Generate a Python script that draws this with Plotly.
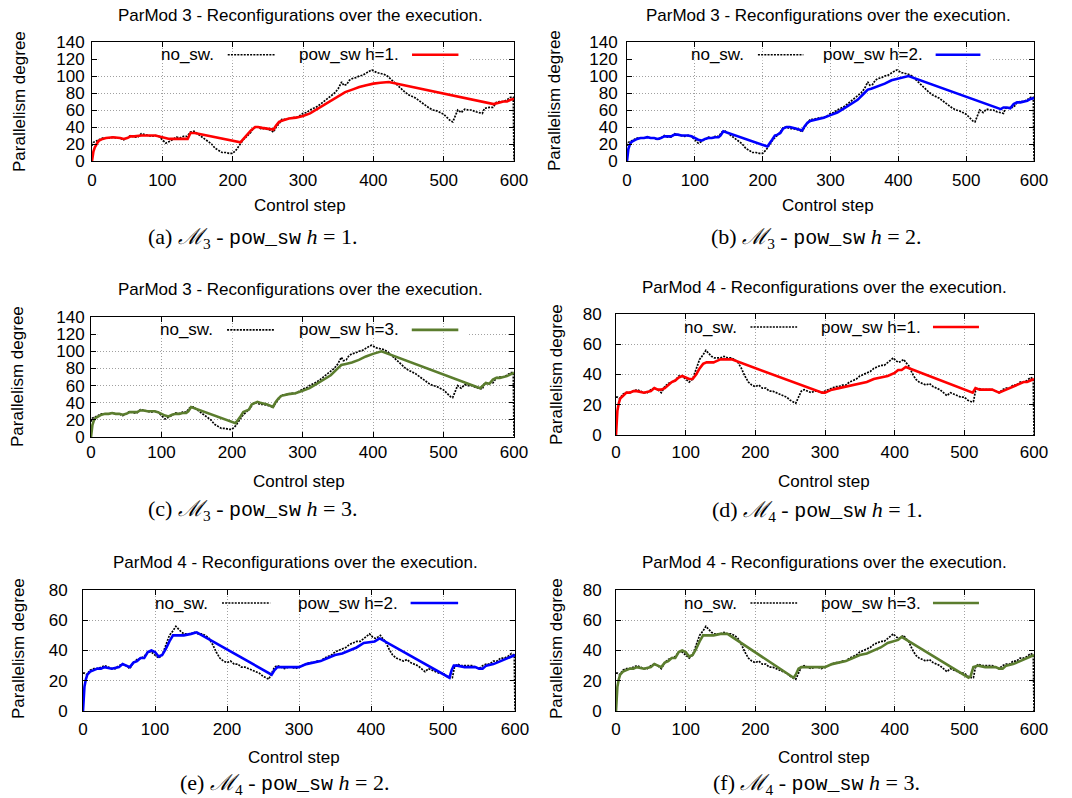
import plotly.graph_objects as go

W, H = 1072, 798

# ---------------- data ----------------
M3_NO_SW = [(0,18),(2,22),(5,23),(10,25),(15,27),(20,27),(25,27),(30,28),(35,27),(40,27),(45,25),(50,27),(55,30),(60,28),(65,28),(70,32),(75,31),(80,30),(85,29),(90,30),(95,29),(100,25),(105,21),(110,23),(115,26),(120,28),(125,27),(130,29),(135,29),(140,34),(145,35),(150,32),(155,29),(160,27),(165,24),(170,20),(175,15),(180,12),(185,10),(190,10),(195,9),(200,9),(205,13),(210,19),(215,25),(220,29),(225,33),(230,39),(235,40),(240,38),(245,38),(250,37),(255,36),(258,34),(262,40),(266,44),(270,49),(275,49),(280,50),(285,51),(290,51),(295,53),(300,56),(305,57),(310,60),(315,62),(320,64),(325,67),(330,70),(335,73),(340,77),(345,80),(350,85),(355,93),(358,89),(362,90),(366,95),(370,97),(375,98),(380,100),(385,101),(390,104),(395,106),(398,107),(402,105),(405,104),(410,103),(415,102),(420,100),(425,96),(430,92),(435,88),(440,85),(445,81),(450,78),(455,76),(460,74),(465,71),(470,68),(475,64),(480,62),(485,60),(490,59),(495,57),(500,55),(505,51),(510,47),(513,46),(516,53),(520,60),(525,57),(530,61),(535,60),(540,60),(545,58),(550,57),(555,56),(558,62),(562,63),(565,63),(570,63),(575,69),(580,70),(585,70),(590,72),(595,75),(599,75),(600,0)]

M3_H1 = [(0,0),(1,6),(2,11),(4,16),(6,20),(8,22),(10,24),(15,26),(20,27),(30,28),(40,27),(45,26),(50,27),(55,29),(60,29),(70,30),(80,30),(90,30),(100,28),(110,26),(120,26),(130,26),(136,26),(140,33),(146,33),(211,22),(214,25),(218,29),(222,33),(226,36),(232,40),(236,40),(242,39),(250,38),(258,37),(262,42),(266,46),(272,48),(280,50),(290,51),(300,53),(310,56),(320,61),(330,66),(340,71),(350,76),(360,81),(370,84),(380,87),(390,89),(400,91),(410,92),(422,93),(571,67),(575,68),(580,69),(585,70),(590,70),(595,72),(600,73)]

M3_H2 = [(0,0),(1,8),(2,14),(4,19),(6,22),(8,23),(10,24),(15,26),(20,27),(25,27),(30,28),(35,27),(40,27),(45,26),(50,27),(55,29),(60,29),(65,29),(70,31),(75,31),(80,30),(85,30),(90,30),(95,29),(100,27),(105,25),(110,24),(115,26),(120,27),(125,27),(130,28),(135,28),(138,30),(142,35),(207,17),(210,20),(214,25),(218,30),(222,31),(226,33),(230,38),(235,40),(240,40),(250,38),(258,36),(262,41),(266,45),(270,47),(280,49),(290,51),(300,54),(310,57),(320,62),(330,67),(340,72),(350,80),(355,84),(360,85),(370,88),(380,91),(390,95),(400,97),(410,99),(415,100),(551,61),(555,63),(560,63),(565,62),(570,67),(575,69),(580,69),(585,70),(590,71),(595,73),(600,74)]

M3_H3 = [(0,0),(1,8),(2,14),(4,19),(6,22),(8,23),(10,24),(15,26),(20,27),(25,27),(30,28),(35,27),(40,27),(45,26),(50,27),(55,29),(60,29),(65,29),(70,31),(75,31),(80,30),(85,30),(90,30),(95,29),(100,27),(105,25),(110,24),(115,26),(120,27),(125,27),(130,28),(135,28),(138,30),(142,35),(205,16),(208,19),(212,24),(216,29),(220,31),(224,32),(228,38),(232,40),(236,41),(240,40),(250,38),(258,35),(262,41),(266,45),(270,48),(280,50),(290,51),(300,54),(310,57),(320,62),(330,67),(340,72),(350,80),(355,84),(360,85),(370,87),(380,90),(390,94),(400,97),(405,98),(412,100),(552,57),(556,60),(560,63),(565,62),(570,67),(575,69),(580,69),(585,70),(590,71),(595,73),(600,75)]

M4_NO_SW = [(0,25),(2,25),(5,24),(10,27),(15,28),(20,28),(25,29),(30,30),(35,29),(40,28),(45,28),(50,30),(55,31),(60,30),(65,28),(70,32),(75,34),(80,35),(85,36),(90,39),(95,39),(100,37),(105,35),(110,37),(115,44),(120,50),(125,53),(129,56),(133,54),(137,52),(141,51),(145,51),(150,51),(155,52),(160,51),(165,51),(170,50),(175,48),(180,44),(185,39),(190,35),(195,33),(200,32),(205,33),(210,31),(215,31),(220,29),(225,29),(230,28),(235,27),(240,26),(245,25),(250,23),(255,22),(258,21),(262,25),(266,29),(270,30),(275,29),(280,28),(285,29),(290,29),(295,28),(300,29),(305,30),(310,31),(315,32),(320,32),(325,33),(330,33),(335,35),(340,36),(345,37),(350,39),(355,40),(360,41),(365,42),(370,44),(375,45),(380,46),(385,46),(390,48),(395,50),(398,51),(402,49),(406,48),(410,49),(413,50),(416,48),(420,46),(425,41),(430,37),(435,35),(440,34),(445,33),(450,34),(455,32),(460,31),(465,30),(470,28),(475,26),(480,28),(485,27),(490,26),(495,25),(500,25),(505,23),(510,22),(513,22),(516,29),(520,31),(525,30),(530,30),(535,30),(540,30),(545,29),(550,28),(555,30),(560,31),(565,31),(570,33),(575,33),(580,35),(585,35),(590,36),(595,38),(599,37),(600,0)]

M4_H1 = [(0,0),(1,10),(2,16),(4,21),(6,24),(8,25),(10,26),(15,28),(20,28),(25,29),(30,29),(40,28),(50,29),(55,31),(60,30),(65,30),(70,31),(75,33),(80,35),(85,36),(90,38),(95,39),(100,38),(105,37),(110,37),(115,40),(120,44),(125,47),(130,48),(140,48),(145,49),(150,50),(155,50),(160,50),(166,50),(296,28),(300,28),(305,29),(310,30),(320,31),(330,32),(340,33),(350,34),(360,35),(370,37),(380,38),(390,39),(400,41),(405,43),(410,43),(416,45),(512,28),(516,31),(522,30),(530,30),(540,30),(545,29),(550,28),(555,29),(560,30),(570,32),(580,34),(585,35),(590,35),(595,36),(600,37)]

M4_H2 = [(0,0),(1,10),(2,16),(4,21),(6,24),(8,25),(10,26),(15,27),(20,28),(25,28),(30,29),(40,28),(50,29),(55,31),(60,30),(65,29),(70,32),(75,33),(80,35),(85,35),(90,39),(95,40),(100,39),(105,36),(110,37),(115,41),(120,46),(125,50),(130,50),(140,50),(150,51),(158,52),(262,24),(266,27),(270,29),(280,29),(290,29),(300,29),(310,31),(320,32),(330,33),(340,35),(350,37),(360,38),(370,40),(380,42),(390,45),(400,46),(405,46),(412,48),(507,22),(509,22),(512,27),(515,30),(520,30),(530,29),(540,29),(545,29),(550,28),(555,28),(560,30),(570,31),(580,33),(585,34),(590,35),(595,36),(600,37)]

M4_H3 = [(0,0),(1,10),(2,16),(4,21),(6,24),(8,25),(10,26),(15,27),(20,28),(25,28),(30,29),(40,28),(50,29),(55,31),(60,30),(65,29),(70,32),(75,33),(80,35),(85,35),(90,39),(95,40),(100,39),(105,36),(110,37),(115,41),(120,46),(125,50),(130,50),(140,50),(150,51),(160,51),(255,22),(258,24),(262,28),(266,29),(270,29),(280,29),(290,29),(300,29),(310,31),(320,32),(330,33),(340,35),(350,37),(360,38),(370,40),(380,42),(390,45),(400,46),(405,47),(410,49),(506,22),(509,23),(513,29),(520,30),(530,29),(540,29),(545,29),(550,28),(555,28),(560,30),(570,31),(580,33),(585,34),(590,35),(595,36),(600,37)]

X_TICKS = [0, 100, 200, 300, 400, 500, 600]
Y_TICKS_M3 = [0, 20, 40, 60, 80, 100, 120, 140]
Y_TICKS_M4 = [0, 20, 40, 60, 80]

TITLE_M3 = "ParMod 3 - Reconfigurations over the execution."
TITLE_M4 = "ParMod 4 - Reconfigurations over the execution."
X_TITLE = "Control step"
Y_TITLE = "Parallelism degree"
NOSW_LABEL = "no_sw."

RED = "#ff0000"
BLUE = "#0000ff"
GREEN = "#5b7d2e"

SANS = "Liberation Sans, Arial, sans-serif"
SERIF = "Liberation Serif, DejaVu Serif, serif"
MONO = "Liberation Mono, DejaVu Sans Mono, monospace"
NOSW_DASH = "2px,1.2px"
NB = "\u00a0"


def caption(letter, m, h):
    return (f"({letter}){NB}<i>ℳ</i><sub>{m}</sub>{NB}-{NB}"
            f"<span style=\"font-family:{MONO};font-size:20px\">pow_sw</span>{NB}"
            f"<i>h</i>{NB}={NB}{h}.")


panels = [
    dict(nosw=M3_NO_SW, sw=M3_H1, color=RED, label="pow_sw h=1.", title=TITLE_M3,
         cap=caption("a", 3, 1), box=(92, 514, 42, 161), ymax=140, yt=Y_TICKS_M3,
         title_xy=(300, 15), xt_xy=(300, 205), cap_xy=(252, 238), yt_xy=(19, 102),
         xstand=4, ystand=3, legy=125),
    dict(nosw=M3_NO_SW, sw=M3_H2, color=BLUE, label="pow_sw h=2.", title=TITLE_M3,
         cap=caption("b", 3, 2), box=(627, 1034, 42, 161), ymax=140, yt=Y_TICKS_M3,
         title_xy=(828, 15), xt_xy=(828, 205), cap_xy=(816, 238), yt_xy=(555, 101),
         xstand=4, ystand=5, legy=125),
    dict(nosw=M3_NO_SW, sw=M3_H3, color=GREEN, label="pow_sw h=3.", title=TITLE_M3,
         cap=caption("c", 3, 3), box=(91, 514, 317, 437), ymax=140, yt=Y_TICKS_M3,
         title_xy=(300, 290), xt_xy=(299, 481), cap_xy=(252, 510), yt_xy=(18, 377),
         xstand=0, ystand=2, legy=125),
    dict(nosw=M4_NO_SW, sw=M4_H1, color=RED, label="pow_sw h=1.", title=TITLE_M4,
         cap=caption("d", 4, 1), box=(616, 1034, 314, 435), ymax=80, yt=Y_TICKS_M4,
         title_xy=(824, 287), xt_xy=(824, 481), cap_xy=(817, 511), yt_xy=(556, 375),
         xstand=2, ystand=10, legy=71.4),
    dict(nosw=M4_NO_SW, sw=M4_H2, color=BLUE, label="pow_sw h=2.", title=TITLE_M4,
         cap=caption("e", 4, 2), box=(83, 515, 590, 711), ymax=80, yt=Y_TICKS_M4,
         title_xy=(295, 562), xt_xy=(294, 757), cap_xy=(284, 784), yt_xy=(18, 649),
         xstand=3, ystand=11, legy=71.4),
    dict(nosw=M4_NO_SW, sw=M4_H3, color=GREEN, label="pow_sw h=3.", title=TITLE_M4,
         cap=caption("f", 4, 3), box=(616, 1034, 590, 711), ymax=80, yt=Y_TICKS_M4,
         title_xy=(824, 562), xt_xy=(824, 757), cap_xy=(816, 784), yt_xy=(556, 649),
         xstand=3, ystand=10, legy=71.4),
]


def px(x):
    return x / W


def py(y):
    return 1 - y / H


fig = go.Figure()
annotations = []
shapes = []
layout = {}

for i, p in enumerate(panels, start=1):
    xa = "x" if i == 1 else f"x{i}"
    ya = "y" if i == 1 else f"y{i}"
    x0, x1, ytop, ybot = p["box"]
    axis_common = dict(
        showline=True, linecolor="black", linewidth=1, mirror="ticks",
        ticks="inside", ticklen=5, tickcolor="black", tickwidth=1,
        showgrid=True, gridcolor="#a0a0a0", griddash="1px,2px", gridwidth=1,
        zeroline=False, automargin=False,
        tickfont=dict(family=SANS, size=17, color="black"),
    )
    layout[f"xaxis{'' if i == 1 else i}"] = dict(
        axis_common, domain=[px(x0), px(x1)], anchor=ya, range=[0, 600],
        tickvals=X_TICKS, ticklabelstandoff=p["xstand"],
    )
    layout[f"yaxis{'' if i == 1 else i}"] = dict(
        axis_common, domain=[py(ybot), py(ytop)], anchor=xa, range=[0, p["ymax"]],
        tickvals=p["yt"], ticklabelstandoff=p["ystand"],
    )

    nx = [a for a, b in p["nosw"]]
    ny = [b for a, b in p["nosw"]]
    sx = [a for a, b in p["sw"]]
    sy = [b for a, b in p["sw"]]
    fig.add_trace(go.Scatter(x=nx, y=ny, mode="lines", xaxis=xa, yaxis=ya,
                             line=dict(color="black", width=1.7, dash=NOSW_DASH),
                             showlegend=False, hoverinfo="skip"))
    fig.add_trace(go.Scatter(x=sx, y=sy, mode="lines", xaxis=xa, yaxis=ya,
                             line=dict(color=p["color"], width=2.6),
                             showlegend=False, hoverinfo="skip"))

    # in-plot key (gnuplot style: text then sample)
    ly = p["legy"]
    if p["ymax"] == 140:
        shapes.append(dict(type="line", xref=xa, yref=ya, x0=9, x1=536, y0=120, y1=120,
                           line=dict(color="white", width=3), layer="between"))
    annotations.append(dict(x=176, y=ly, xref=xa, yref=ya, text=NOSW_LABEL,
                            showarrow=False, xanchor="right", yanchor="middle",
                            font=dict(family=SANS, size=17, color="black")))
    shapes.append(dict(type="line", xref=xa, yref=ya, x0=193, x1=260, y0=ly, y1=ly,
                       line=dict(color="black", width=1.7, dash=NOSW_DASH)))
    annotations.append(dict(x=440, y=ly, xref=xa, yref=ya, text=p["label"],
                            showarrow=False, xanchor="right", yanchor="middle",
                            font=dict(family=SANS, size=17, color="black")))
    shapes.append(dict(type="line", xref=xa, yref=ya, x0=455, x1=521, y0=ly, y1=ly,
                       line=dict(color=p["color"], width=2.6)))

    tx, ty = p["title_xy"]
    annotations.append(dict(x=px(tx), y=py(ty), xref="paper", yref="paper", text=p["title"],
                            showarrow=False, xanchor="center", yanchor="middle",
                            font=dict(family=SANS, size=17, color="black")))
    cx, cy = p["xt_xy"]
    annotations.append(dict(x=px(cx), y=py(cy), xref="paper", yref="paper", text=X_TITLE,
                            showarrow=False, xanchor="center", yanchor="middle",
                            font=dict(family=SANS, size=17, color="black")))
    vx, vy = p["yt_xy"]
    annotations.append(dict(x=px(vx), y=py(vy), xref="paper", yref="paper", text=Y_TITLE,
                            showarrow=False, xanchor="center", yanchor="middle", textangle=-90,
                            font=dict(family=SANS, size=17, color="black")))
    kx, ky = p["cap_xy"]
    annotations.append(dict(x=px(kx), y=py(ky), xref="paper", yref="paper", text=p["cap"],
                            showarrow=False, xanchor="center", yanchor="middle",
                            font=dict(family=SERIF, size=22, color="black")))

fig.update_layout(
    width=W, height=H, margin=dict(l=0, r=0, t=0, b=0, autoexpand=False),
    paper_bgcolor="white", plot_bgcolor="white",
    annotations=annotations, shapes=shapes, showlegend=False,
    **layout,
)

fig.write_html("out.html", config={"displayModeBar": False},
               post_script="document.body.style.margin='0';document.body.style.padding='0';")
